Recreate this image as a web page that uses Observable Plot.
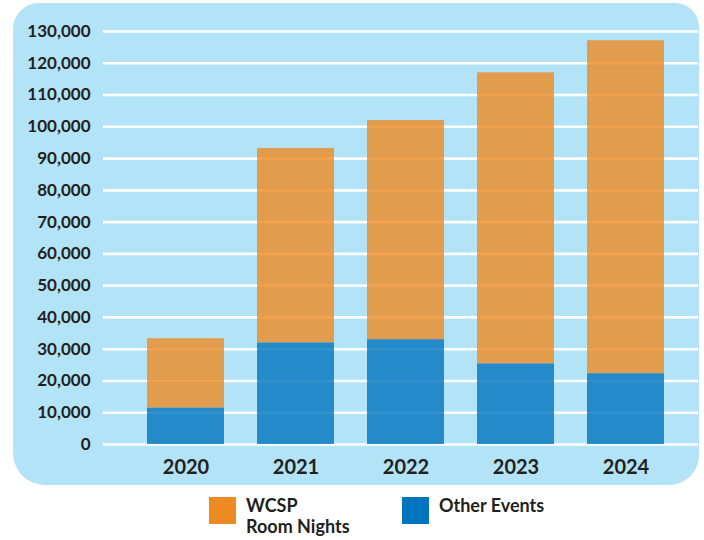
<!DOCTYPE html>
<html>
<head>
<meta charset="utf-8">
<script src="https://cdn.jsdelivr.net/npm/d3@7"></script>
<script src="https://cdn.jsdelivr.net/npm/@observablehq/plot@0.6"></script>
<style>
  html, body { margin: 0; padding: 0; background: #ffffff; }
  body { width: 704px; height: 540px; position: relative; overflow: hidden; font-family: Lato, "DejaVu Sans", sans-serif; }
  #panel { position: absolute; left: 13px; top: 3px; width: 686px; height: 482px; background: #b3e3f7; border-radius: 26px 24px 30px 32px; }
  #chart { position: absolute; left: 0; top: 0; }
  .legend-item { position: absolute; display: flex; align-items: flex-start; }
  .swatch { width: 27px; height: 27px; margin-top: 2px; margin-right: 10px; flex: none; }
  .legend-label { font-weight: 700; font-size: 18px; line-height: 21px; color: #231f20; }
</style>
</head>
<body>
<div id="panel"></div>
<div id="chart"></div>
<div class="legend-item" style="left:209px; top:495px;">
  <div class="swatch" style="background:#ee8a22"></div>
  <div class="legend-label">WCSP<br>Room Nights</div>
</div>
<div class="legend-item" style="left:402px; top:495px;">
  <div class="swatch" style="background:#0074bf"></div>
  <div class="legend-label">Other Events</div>
</div>
<script>
// Room nights per year, split by source
const years = ["2020", "2021", "2022", "2023", "2024"];
const otherEvents = [11500, 32000, 33000, 25400, 22300];
const wcspRoomNights = [21800, 61200, 69000, 91600, 104800];
const seriesNames = ["Other Events", "WCSP Room Nights"];
const seriesColors = ["#0074bf", "#ee8a22"];
const yTicks = [0, 10000, 20000, 30000, 40000, 50000, 60000, 70000, 80000, 90000, 100000, 110000, 120000, 130000];

// Long table: other events first so they stack at the bottom
const rows = [
  ...years.map((year, i) => ({year, series: seriesNames[0], value: otherEvents[i]})),
  ...years.map((year, i) => ({year, series: seriesNames[1], value: wcspRoomNights[i]}))
];

const fmt = d3.format(",");

const chart = Plot.plot({
  width: 704,
  height: 490,
  marginTop: 31,
  marginBottom: 46,
  marginLeft: 103,
  marginRight: 6,
  style: { background: "transparent", fontFamily: "Lato, 'DejaVu Sans', sans-serif", color: "#231f20" },
  x: { domain: years, paddingInner: 0.3, paddingOuter: 0.338, align: 0.563, label: null },
  y: { domain: [0, 130000], label: null },
  color: { domain: seriesNames, range: seriesColors },
  marks: [
    Plot.ruleY(yTicks, { stroke: "#ffffff", strokeWidth: 2.6 }),
    Plot.barY(rows, Plot.stackY({ order: seriesNames }, {
      x: "year", y: "value", fill: "series", fillOpacity: 0.8
    })),
    Plot.axisY(yTicks, {
      tickSize: 0, tickPadding: 13, tickFormat: fmt,
      fontSize: 17, fontWeight: 700, fill: "#231f20", label: null
    }),
    Plot.axisX({
      tickSize: 0, tickPadding: 15,
      fontSize: 20, fontWeight: 700, fill: "#231f20", label: null
    })
  ]
});

document.getElementById("chart").appendChild(chart);
</script>
</body>
</html>
